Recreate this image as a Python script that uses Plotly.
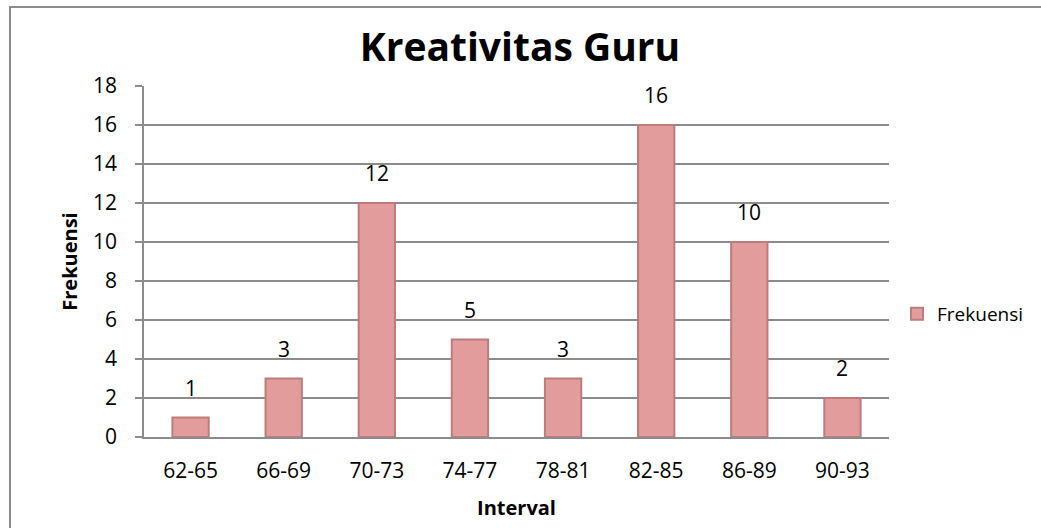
import plotly.graph_objects as go

categories = ["62-65", "66-69", "70-73", "74-77", "78-81", "82-85", "86-89", "90-93"]
frekuensi = [1, 3, 12, 5, 3, 16, 10, 2]
y_ticks = [0, 2, 4, 6, 8, 10, 12, 14, 16, 18]

FONT = "Open Sans, Carlito, Calibri, sans-serif"

fig = go.Figure()
fig.add_trace(go.Bar(
    x=categories, y=frekuensi, name="Frekuensi",
    marker=dict(color="#E39C9C", line=dict(color="#BD7C7C", width=2)),
))

for c, v in zip(categories, frekuensi):
    fig.add_annotation(x=c, y=v, text=str(v), showarrow=False,
                       yanchor="bottom", yshift=14,
                       font=dict(size=21, family=FONT, color="black"))

fig.update_layout(
    width=1041, height=528,
    margin=dict(l=144, r=152, t=86, b=91, autoexpand=False),
    paper_bgcolor="white", plot_bgcolor="white",
    font=dict(family=FONT, size=21, color="black"),
    title=dict(text="<b>Kreativitas Guru</b>", x=520 / 1041, xanchor="center",
               y=1 - 47 / 528, yanchor="middle",
               font=dict(size=39, family=FONT, color="black")),
    bargap=0.61,
    showlegend=True,
    legend=dict(xref="container", yref="container", x=897 / 1041, xanchor="left",
                y=1 - 314 / 528, yanchor="middle",
                font=dict(size=19, family=FONT), itemwidth=30),
    xaxis=dict(
        showline=True, linecolor="#8C8C8C", linewidth=1.5,
        showgrid=False, ticks="", tickfont=dict(size=21),
        ticklabelstandoff=14,
        title=dict(text="<b>Interval</b>", font=dict(size=20), standoff=18),
    ),
    yaxis=dict(
        range=[0, 18], tickvals=y_ticks, showline=True, linecolor="#8C8C8C",
        linewidth=1.5, showgrid=True, gridcolor="#8C8C8C", gridwidth=1.5,
        ticks="outside", ticklen=7, tickcolor="#8C8C8C", tickwidth=1.5,
        tickfont=dict(size=21), zeroline=False, ticklabelstandoff=14,
        title=dict(text="<b>Frekuensi</b>", font=dict(size=20), standoff=10),
    ),
)

fig.add_shape(type="rect", xref="paper", yref="paper",
              x0=-134 / 745, x1=2.0, y0=-1.0, y1=1 + 79 / 351,
              line=dict(color="#8C8C8C", width=2), fillcolor="rgba(0,0,0,0)",
              layer="below")

fig.write_html("out.html", config={"displayModeBar": False},
               post_script="document.body.style.margin='0';")
